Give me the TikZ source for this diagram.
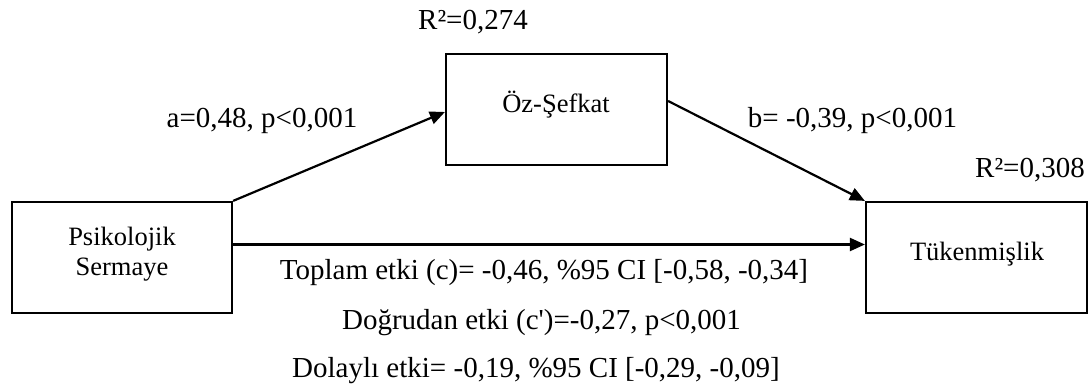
\documentclass[tikz,border=0pt]{standalone}
\usepackage{fontspec}
\setmainfont{Liberation Serif}
\usetikzlibrary{arrows.meta}
\begin{document}
\begin{tikzpicture}[x=1pt,y=-1pt,
  every node/.style={inner sep=0pt},
  varbox/.style={draw, line width=2.2pt, minimum height=111pt},
  vartext/.style={anchor=base, font=\fontsize{26.5}{30}\selectfont},
  path/.style={line width=2.2pt, -{Triangle[length=15pt,width=13pt]}},
  lbl/.style={anchor=base, font=\fontsize{29}{34}\selectfont}]
  \useasboundingbox (0,0) rectangle (1091,385);

  % variables
  \node[varbox, minimum width=220pt] (ps) at (122,257.5) {};
  \node[varbox, minimum width=221pt] (oz) at (556.5,109.5) {};
  \node[varbox, minimum width=221pt] (tk) at (976.5,257.5) {};
  \node[vartext] (ps1) at (122,245) {Psikolojik};
  \node[vartext] (ps2) at (122,275) {Sermaye};
  \node[vartext] (ozt) at (556,113) {Öz-Şefkat};
  \node[vartext] (tkt) at (977,260) {Tükenmişlik};

  % paths
  \draw[path] (ps.north east) -- ([yshift=-2.5pt]oz.west);
  \draw[path] ([yshift=8.5pt]oz.east) -- (tk.north west);
  \draw[path] ([yshift=13pt]ps.east) -- ([yshift=13pt]tk.west);

  % coefficients
  \node[lbl] (r2oz) at (473,30) {R²=0,274};
  \node[lbl] (pa) at (262,128) {a=0,48, p<0,001};
  \node[lbl] (pb) at (852.5,128) {b= -0,39, p<0,001};
  \node[lbl] (r2tk) at (1030,177) {R²=0,308};
  \node[lbl] (tot) at (544,279) {Toplam etki (c)= -0,46, \%95 CI [-0,58, -0,34]};
  \node[lbl] (dir) at (541.5,329) {Doğrudan etki (c\textquotesingle)=-0,27, p<0,001};
  \node[lbl] (ind) at (536,377) {Dolaylı etki= -0,19, \%95 CI [-0,29, -0,09]};
\end{tikzpicture}
\end{document}
